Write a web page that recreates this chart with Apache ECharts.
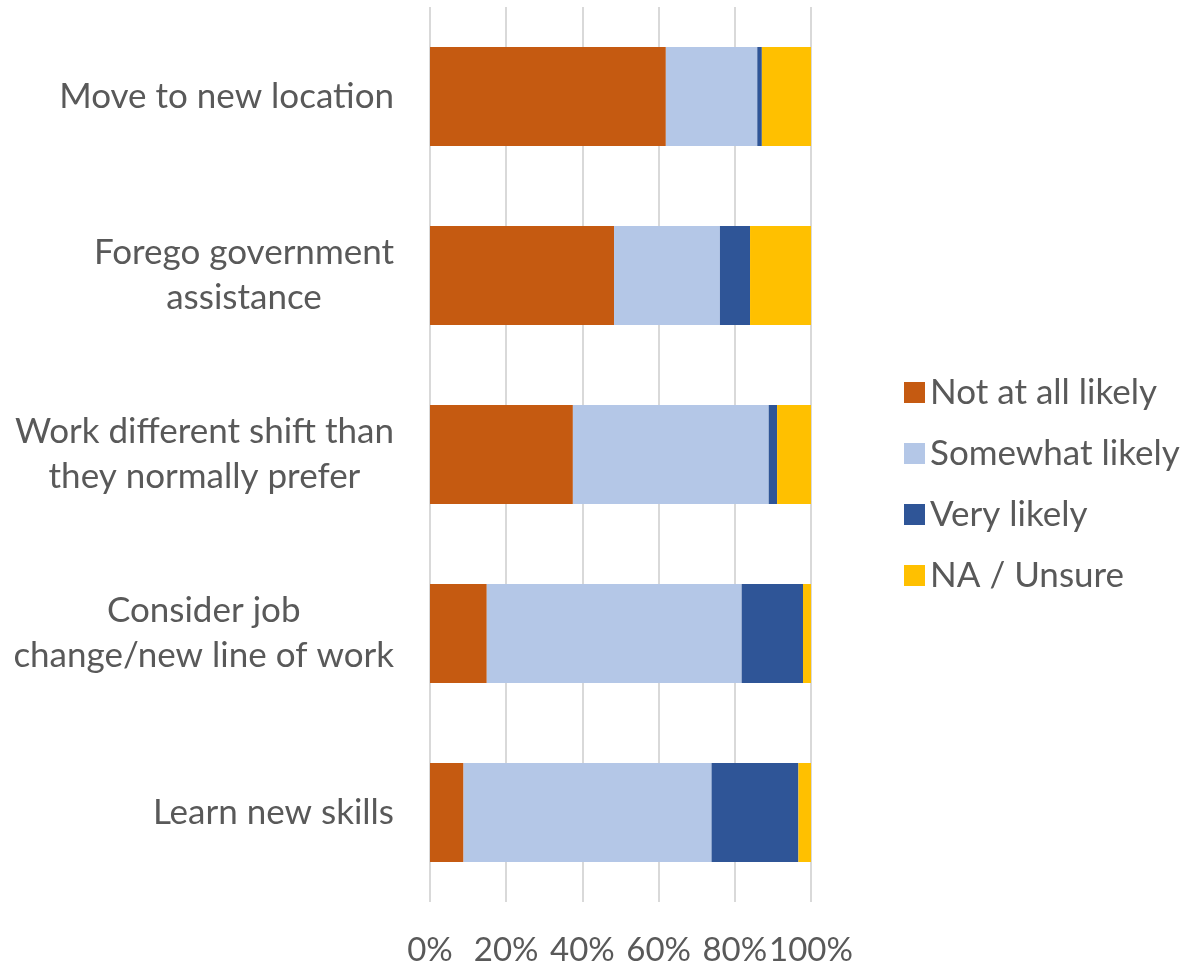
<!DOCTYPE html>
<html>
<head>
<meta charset="utf-8">
<script src="https://cdn.jsdelivr.net/npm/echarts@6/dist/echarts.min.js"></script>
<style>
  html, body { margin: 0; padding: 0; background: #ffffff; }
  #chart { width: 1183px; height: 965px; }
</style>
</head>
<body>
<div id="chart"></div>
<script>
// Survey responses: likelihood of each action (percent of respondents)
const categories = [
  'Move to new location',
  'Forego government\nassistance',
  'Work different shift than\nthey normally prefer',
  'Consider job\nchange/new line of work',
  'Learn new skills'
];
const notAtAllLikely = [61.9, 48.3, 37.5, 14.9, 8.8];
const somewhatLikely = [24.0, 27.8, 51.4, 66.9, 65.1];
const veryLikely     = [1.2, 7.9, 2.2, 16.1, 22.8];
const naUnsure       = [12.9, 16.0, 8.9, 2.1, 3.3];
const seriesNames = ['Not at all likely', 'Somewhat likely', 'Very likely', 'NA / Unsure'];
const seriesColors = ['#C55A11', '#B4C7E7', '#2F5597', '#FFC000'];
const tickValues = [0, 20, 40, 60, 80, 100];

const FONT = 'Lato, "Open Sans", sans-serif';
const TEXT = '#595959';

const chart = echarts.init(document.getElementById('chart'));
const seriesData = [notAtAllLikely, somewhatLikely, veryLikely, naUnsure];

chart.setOption({
  backgroundColor: '#ffffff',
  animation: false,
  grid: { left: 430, right: 372, top: 7, bottom: 63, containLabel: false, outerBoundsMode: 'none' },
  legend: {
    orient: 'vertical',
    left: 899,
    top: 370,
    icon: 'rect',
    itemWidth: 21,
    itemHeight: 21,
    itemGap: 26,
    data: seriesNames,
    textStyle: { fontFamily: FONT, fontSize: 35, color: TEXT, lineHeight: 35 }
  },
  xAxis: {
    type: 'value',
    min: tickValues[0],
    max: tickValues[tickValues.length - 1],
    interval: tickValues[1] - tickValues[0],
    axisLine: { show: false },
    axisTick: { show: false },
    splitLine: { show: true, lineStyle: { color: '#D9D9D9', width: 2 } },
    axisLabel: {
      formatter: '{value}%',
      showMinLabel: true,
      showMaxLabel: true,
      hideOverlap: false,
      fontFamily: FONT, fontSize: 33, color: TEXT, margin: 32
    }
  },
  yAxis: {
    type: 'category',
    inverse: true,
    data: categories,
    axisLine: { show: false },
    axisTick: { show: false },
    axisLabel: {
      margin: 36,
      align: 'right',
      formatter: function (value) {
        return value.split('\n').map(function (line) { return '{c|' + line + '}'; }).join('\n');
      },
      rich: {
        c: { align: 'center', fontFamily: FONT, fontSize: 35, color: TEXT, lineHeight: 45 }
      }
    }
  },
  series: seriesNames.map(function (name, i) {
    return {
      name: name,
      type: 'bar',
      stack: 'total',
      barWidth: 99,
      itemStyle: { color: seriesColors[i] },
      data: seriesData[i]
    };
  })
});
</script>
</body>
</html>
